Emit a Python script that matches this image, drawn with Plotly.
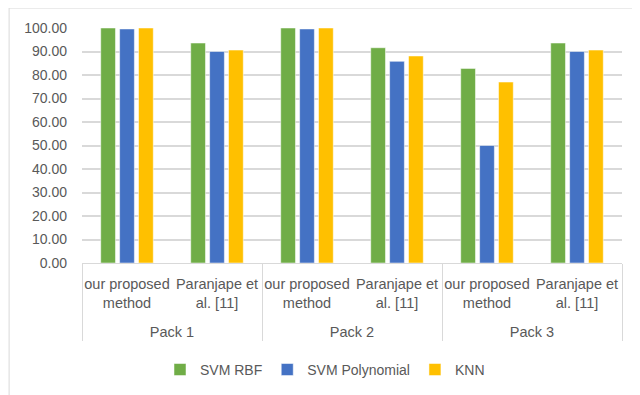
import plotly.graph_objects as go

packs = ["Pack 1", "Pack 1", "Pack 2", "Pack 2", "Pack 3", "Pack 3"]
methods = ["our proposed<br>method<br> ", "Paranjape et<br>al. [11]<br> "] * 3

svm_rbf = [100.0, 93.6, 100.0, 91.6, 82.8, 93.6]
svm_poly = [99.6, 90.0, 99.6, 85.8, 50.0, 90.0]
knn = [100.0, 90.6, 100.0, 88.1, 77.0, 90.6]

series = [
    ("SVM RBF", svm_rbf, "#70AD47"),
    ("SVM Polynomial", svm_poly, "#4472C4"),
    ("KNN", knn, "#FFC000"),
]

font_family = "Liberation Sans"
grey = "#595959"

fig = go.Figure()
for name, vals, col in series:
    fig.add_trace(go.Bar(
        x=[packs, methods], y=vals, name=name,
        marker=dict(color=col, line=dict(color="white", width=0.5)),
    ))

fig.update_layout(
    width=640, height=395,
    margin=dict(l=74, r=26, t=20, b=140),
    paper_bgcolor="white", plot_bgcolor="white",
    barmode="group", bargap=0.37, bargroupgap=0.22,
    font=dict(family=font_family, size=14, color=grey),
    showlegend=True,
    legend=dict(orientation="h", x=0.45, y=-0.455, xanchor="center", yanchor="middle",
                font=dict(size=14, color=grey), itemwidth=30, traceorder="normal"),
    xaxis=dict(type="multicategory", showline=True, linecolor="#d9d9d9", linewidth=1,
               showdividers=True, dividercolor="#d9d9d9", dividerwidth=1,
               tickfont=dict(size=14.5, color=grey), ticks="", tickangle=0,
               ticklabelstandoff=8),
    yaxis=dict(range=[0, 100], dtick=10, tickformat=".2f", showgrid=True,
               gridcolor="#d9d9d9", gridwidth=1.5, zeroline=False, showline=False,
               tickfont=dict(size=14, color=grey), ticks="", ticklen=0,
               ticklabelstandoff=14),
    shapes=[dict(type="rect", xref="paper", yref="paper", x0=-0.135, x1=1.1, y0=-0.7, y1=1.085,
                 line=dict(color="#d9d9d9", width=1), fillcolor="rgba(0,0,0,0)", layer="below")],
)

fig.write_html("out.html")
